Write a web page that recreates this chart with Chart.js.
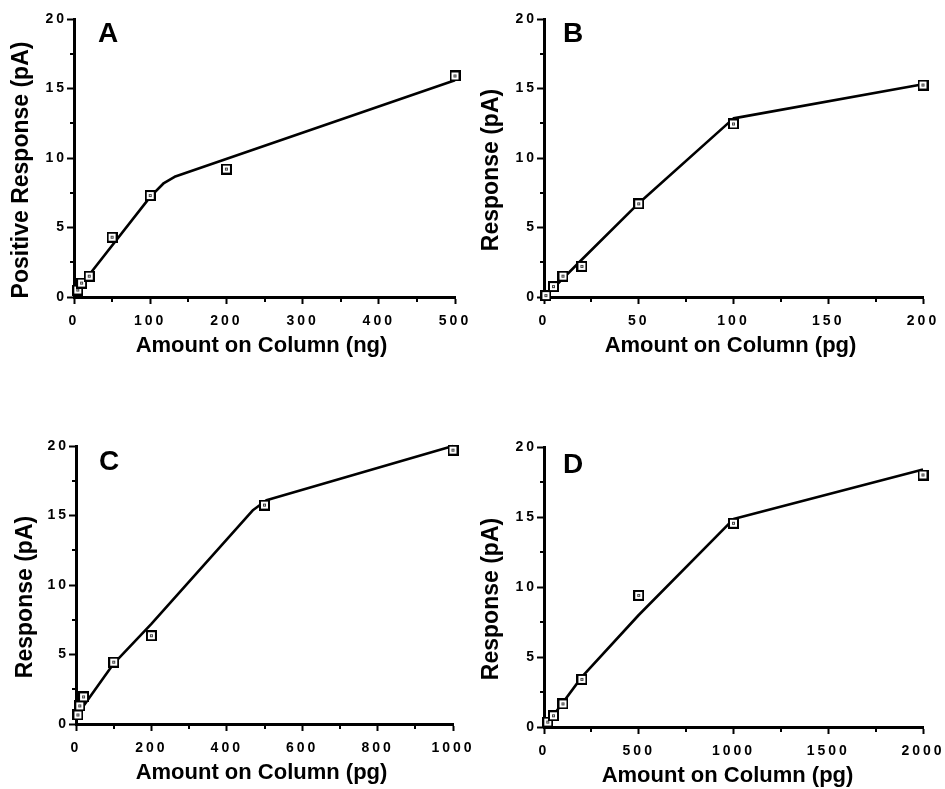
<!DOCTYPE html>
<html>
<head>
<meta charset="utf-8">
<script src="https://cdn.jsdelivr.net/npm/chart.js@4.4.1/dist/chart.umd.min.js"></script>
<style>
  html, body { margin: 0; padding: 0; background: #fff; }
  #wrap { position: relative; width: 945px; height: 789px; overflow: hidden; background: #fff; }
  canvas.panel { position: absolute; }
</style>
</head>
<body>
<div id="wrap">
  <canvas id="panelA" class="panel" style="left:0px;top:0px" width="472" height="394"></canvas>
  <canvas id="panelB" class="panel" style="left:472px;top:0px" width="473" height="394"></canvas>
  <canvas id="panelC" class="panel" style="left:0px;top:394px" width="472" height="395"></canvas>
  <canvas id="panelD" class="panel" style="left:472px;top:394px" width="473" height="395"></canvas>
</div>
<script>
// ---- Panel A: amount in ng ----
const amountA   = [5, 10, 20, 50, 100, 200, 500];
const responseA = [0.5, 1.0, 1.5, 4.3, 7.3, 9.2, 15.9];
const fitAmountA   = [10, 20, 100, 118, 132, 500];
const fitResponseA = [1.0, 1.6, 7.2, 8.2, 8.65, 15.6];
const xTicksA = { max: 500, step: 100 };

// ---- Panel B: amount in pg ----
const amountB   = [1, 5, 10, 20, 50, 100, 200];
const responseB = [0.1, 0.75, 1.5, 2.2, 6.7, 12.45, 15.25];
const fitAmountB   = [1, 20, 50, 100, 200];
const fitResponseB = [0.1, 2.7, 6.75, 12.85, 15.3];
const xTicksB = { max: 200, step: 50 };

// ---- Panel C: amount in pg ----
const amountC   = [5, 10, 20, 100, 200, 500, 1000];
const responseC = [0.65, 1.3, 1.95, 4.45, 6.35, 15.75, 19.7];
const fitAmountC   = [8, 100, 200, 470, 505, 1000];
const fitResponseC = [0.85, 4.35, 7.2, 15.4, 16.1, 20.0];
const xTicksC = { max: 1000, step: 200 };

// ---- Panel D: amount in pg ----
const amountD   = [20, 50, 100, 200, 500, 1000, 2000];
const responseD = [0.35, 0.8, 1.65, 3.4, 9.4, 14.55, 18.0];
const fitAmountD   = [20, 100, 200, 500, 1000, 2000];
const fitResponseD = [0.3, 1.75, 3.58, 8.0, 14.85, 18.4];
const xTicksD = { max: 2000, step: 500 };

// shared response axis
const yTicks = { max: 20, step: 5 };

const FONT = '"Liberation Sans", Arial, Helvetica, sans-serif';

function toPoints(xs, ys) {
  return xs.map((x, i) => ({ x: x, y: ys[i] }));
}

// open square marker with a small centre dot
const squareMarker = (() => {
  const c = document.createElement('canvas');
  c.width = 11; c.height = 11;
  const g = c.getContext('2d');
  g.fillStyle = '#000'; g.fillRect(0, 0, 11, 11);
  g.fillStyle = '#fff'; g.fillRect(2, 2, 7, 7);
  g.fillStyle = '#444'; g.fillRect(4, 4, 3, 3);
  g.fillStyle = '#fff'; g.fillRect(5, 5, 1, 1);
  return c;
})();

// panel letter, axis titles, minor ticks and spaced tick labels
const panelDecor = {
  id: 'panelDecor',
  beforeDraw(chart) { chart.ctx.letterSpacing = '0px'; },
  afterDatasetsDraw(chart) { chart.ctx.letterSpacing = '3px'; },
  afterDraw(chart, args, o) {
    const ctx = chart.ctx;
    const a = chart.chartArea;
    const xs = chart.scales.x, ys = chart.scales.y;
    ctx.save();
    ctx.letterSpacing = '0px';
    ctx.strokeStyle = '#000';
    ctx.lineWidth = 2;
    ctx.beginPath();
    for (let v = o.xStep / 2; v < xs.max; v += o.xStep) {
      const px = Math.round(xs.getPixelForValue(v));
      ctx.moveTo(px, a.bottom);
      ctx.lineTo(px, a.bottom + 5);
    }
    for (let v = o.yStep / 2; v < ys.max; v += o.yStep) {
      const py = Math.round(ys.getPixelForValue(v));
      ctx.moveTo(a.left, py);
      ctx.lineTo(a.left - 4, py);
    }
    ctx.stroke();

    ctx.fillStyle = '#000';
    ctx.textBaseline = 'alphabetic';
    ctx.textAlign = 'left';
    ctx.font = 'bold 28px ' + FONT;
    ctx.fillText(o.letter, a.left + o.letterDx, a.top + o.letterDy);

    ctx.textAlign = 'center';
    ctx.font = 'bold 22px ' + FONT;
    ctx.fillText(o.xTitle, (a.left + a.right) / 2 + o.xTitleDx, a.bottom + 55);

    ctx.translate(a.left - o.yTitleDx, (a.top + a.bottom) / 2 + 12);
    ctx.rotate(-Math.PI / 2);
    ctx.font = 'bold 23px ' + FONT;
    ctx.fillText(o.yTitle, 0, 0);
    ctx.restore();
  }
};

function makePanel(id, cfg) {
  const tickFont = { family: FONT, size: 14, weight: 'bold' };
  const plain = (v) => String(v);
  return new Chart(document.getElementById(id), {
    type: 'scatter',
    data: {
      datasets: [
        {
          data: toPoints(cfg.xs, cfg.ys),
          showLine: false,
          pointStyle: squareMarker,
          pointRadius: 5,
          clip: false
        },
        {
          data: toPoints(cfg.fitXs, cfg.fitYs),
          showLine: true,
          borderColor: '#000',
          borderWidth: 2.6,
          borderJoinStyle: 'round',
          pointRadius: 0,
          tension: 0,
          clip: false
        }
      ]
    },
    options: {
      responsive: false,
      animation: false,
      devicePixelRatio: 1,
      events: [],
      layout: { padding: cfg.padding },
      plugins: {
        legend: { display: false },
        tooltip: { enabled: false },
        panelDecor: {
          letter: cfg.letter, letterDx: cfg.letterDx, letterDy: cfg.letterDy,
          xTitle: cfg.xTitle, xTitleDx: cfg.xTitleDx,
          yTitle: cfg.yTitle, yTitleDx: cfg.yTitleDx,
          xStep: cfg.xTicks.step, yStep: yTicks.step
        }
      },
      scales: {
        x: {
          type: 'linear',
          min: 0, max: cfg.xTicks.max,
          ticks: { stepSize: cfg.xTicks.step, callback: plain, autoSkip: false, maxRotation: 0, padding: 9, color: '#000', font: tickFont, z: 1 },
          grid: { display: true, drawOnChartArea: false, drawTicks: true, tickLength: 7, tickWidth: 2, tickColor: '#000' },
          border: { display: true, color: '#000', width: 3 },
          afterFit(s) { s.height = 40; s.paddingLeft = 0; s.paddingRight = 0; }
        },
        y: {
          type: 'linear',
          min: 0, max: yTicks.max,
          ticks: { stepSize: yTicks.step, callback: plain, padding: 0, color: '#000', font: tickFont, z: 1 },
          grid: { display: true, drawOnChartArea: false, drawTicks: true, tickLength: 7, tickWidth: 2, tickColor: '#000' },
          border: { display: true, color: '#000', width: 3 },
          afterFit(s) { s.width = cfg.yWidth; s.paddingTop = 0; s.paddingBottom = 0; }
        }
      }
    },
    plugins: [panelDecor]
  });
}

makePanel('panelA', {
  xs: amountA, ys: responseA, fitXs: fitAmountA, fitYs: fitResponseA, xTicks: xTicksA,
  padding: { left: 0, top: 19, right: 17, bottom: 57 }, yWidth: 74,
  letter: 'A', letterDx: 24, letterDy: 23,
  xTitle: 'Amount on Column (ng)', xTitleDx: -3,
  yTitle: 'Positive Response (pA)', yTitleDx: 46
});
makePanel('panelB', {
  xs: amountB, ys: responseB, fitXs: fitAmountB, fitYs: fitResponseB, xTicks: xTicksB,
  padding: { left: 0, top: 19, right: 22, bottom: 57 }, yWidth: 72,
  letter: 'B', letterDx: 19, letterDy: 23,
  xTitle: 'Amount on Column (pg)', xTitleDx: -3,
  yTitle: 'Response (pA)', yTitleDx: 46
});
makePanel('panelC', {
  xs: amountC, ys: responseC, fitXs: fitAmountC, fitYs: fitResponseC, xTicks: xTicksC,
  padding: { left: 0, top: 52, right: 19, bottom: 25 }, yWidth: 76,
  letter: 'C', letterDx: 23, letterDy: 24,
  xTitle: 'Amount on Column (pg)', xTitleDx: -3,
  yTitle: 'Response (pA)', yTitleDx: 44
});
makePanel('panelD', {
  xs: amountD, ys: responseD, fitXs: fitAmountD, fitYs: fitResponseD, xTicks: xTicksD,
  padding: { left: 0, top: 53, right: 22, bottom: 22 }, yWidth: 72,
  letter: 'D', letterDx: 19, letterDy: 26,
  xTitle: 'Amount on Column (pg)', xTitleDx: -6,
  yTitle: 'Response (pA)', yTitleDx: 46
});
</script>
</body>
</html>
